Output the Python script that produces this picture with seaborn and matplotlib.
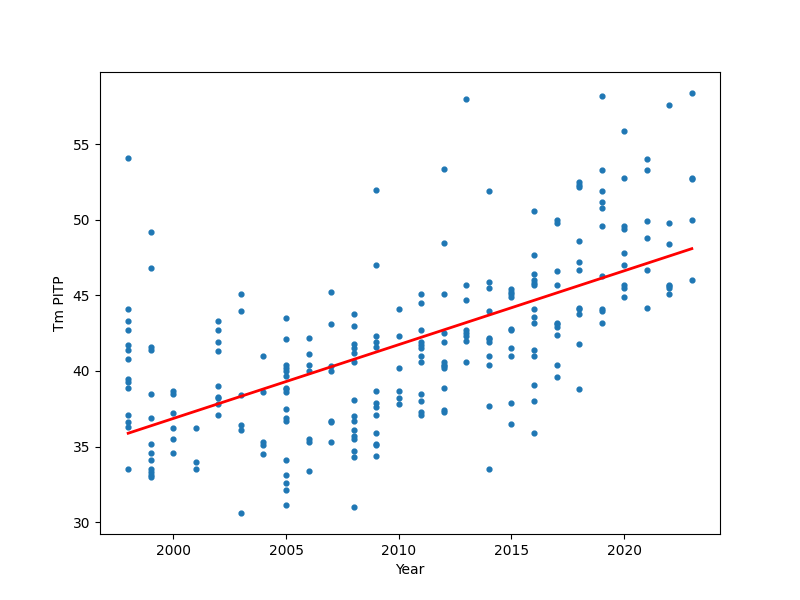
import pandas as pd
import seaborn as sns
import matplotlib.pyplot as plt

years = [1998, 1999, 2000, 2001, 2002, 2003, 2004, 2005, 2006, 2007, 2008, 2009, 2010,
         2011, 2012, 2013, 2014, 2015, 2016, 2017, 2018, 2019, 2020, 2021, 2022, 2023]

tm_pitp = [
    [54.1, 44.1, 43.3, 42.7, 41.7, 41.4, 40.8, 39.5, 39.3, 38.9, 37.1, 36.6, 36.3, 33.5],
    [49.2, 46.8, 41.6, 41.4, 38.5, 36.9, 35.2, 34.6, 34.1, 33.5, 33.3, 33.1, 33.0],
    [38.7, 38.5, 37.2, 36.2, 35.5, 34.6],
    [36.2, 34.0, 33.5],
    [43.3, 42.7, 41.9, 41.3, 39.0, 38.3, 38.2, 37.8, 37.1],
    [45.1, 44.0, 38.4, 36.4, 36.1, 30.6],
    [41.0, 38.6, 35.3, 35.1, 34.5],
    [43.5, 42.1, 40.4, 40.2, 40.0, 39.7, 38.9, 38.8, 38.6, 37.5, 36.9, 36.7,
     34.1, 33.1, 32.6, 32.1, 31.1],
    [42.2, 41.1, 40.4, 40.0, 35.5, 35.3, 33.4],
    [45.2, 43.1, 40.3, 40.0, 36.7, 36.6, 35.3],
    [43.8, 43.0, 41.8, 41.5, 41.2, 40.6, 38.1, 37.0, 36.7, 36.1, 35.7, 35.5,
     34.7, 34.3, 31.0],
    [52.0, 47.0, 42.3, 41.9, 41.6, 38.7, 37.9, 37.6, 37.1, 35.9, 35.2, 35.1, 34.4],
    [44.1, 42.3, 40.2, 38.7, 38.2, 37.8],
    [45.1, 44.5, 42.7, 41.9, 41.7, 41.5, 41.0, 40.6, 38.5, 38.0, 37.3, 37.1],
    [53.4, 48.5, 45.1, 42.5, 41.9, 40.6, 40.4, 40.3, 40.2, 38.9, 37.4, 37.3],
    [58.0, 45.7, 44.7, 42.7, 42.5, 42.3, 42.0, 40.6],
    [51.9, 45.9, 45.5, 44.0, 42.2, 42.1, 41.9, 41.0, 40.4, 37.7, 33.5],
    [45.4, 45.2, 45.1, 44.9, 42.8, 42.7, 41.5, 41.0, 37.9, 36.5],
    [50.6, 47.7, 46.4, 46.0, 45.8, 45.7, 44.1, 43.6, 43.2, 41.4, 41.0, 39.1, 38.0, 35.9],
    [50.0, 49.8, 46.6, 45.7, 43.2, 43.1, 42.9, 42.4, 40.4, 39.6],
    [52.5, 52.3, 52.2, 48.6, 47.2, 46.7, 44.2, 44.1, 43.8, 41.8, 38.8],
    [58.2, 53.3, 51.9, 51.2, 50.8, 49.6, 46.3, 44.1, 44.0, 43.2],
    [55.9, 52.8, 49.6, 49.4, 47.8, 47.0, 45.7, 45.5, 44.9],
    [54.0, 53.3, 49.9, 48.8, 46.7, 44.2],
    [57.6, 49.8, 48.4, 45.7, 45.6, 45.5, 45.1],
    [58.4, 52.8, 52.7, 50.0, 46.0],
]

rows = [(y, v) for y, vals in zip(years, tm_pitp) for v in vals]
df = pd.DataFrame(rows, columns=["Year", "Tm PITP"])

fig, ax = plt.subplots(figsize=(8, 6), dpi=100)
sns.regplot(data=df, x="Year", y="Tm PITP", ci=None, ax=ax,
            scatter_kws={"s": 12, "color": "#1f77b4", "alpha": 1},
            line_kws={"color": "red", "lw": 2})
ax.set_xlabel("Year")
ax.set_ylabel("Tm PITP")
fig.savefig("out.png", dpi=100)
